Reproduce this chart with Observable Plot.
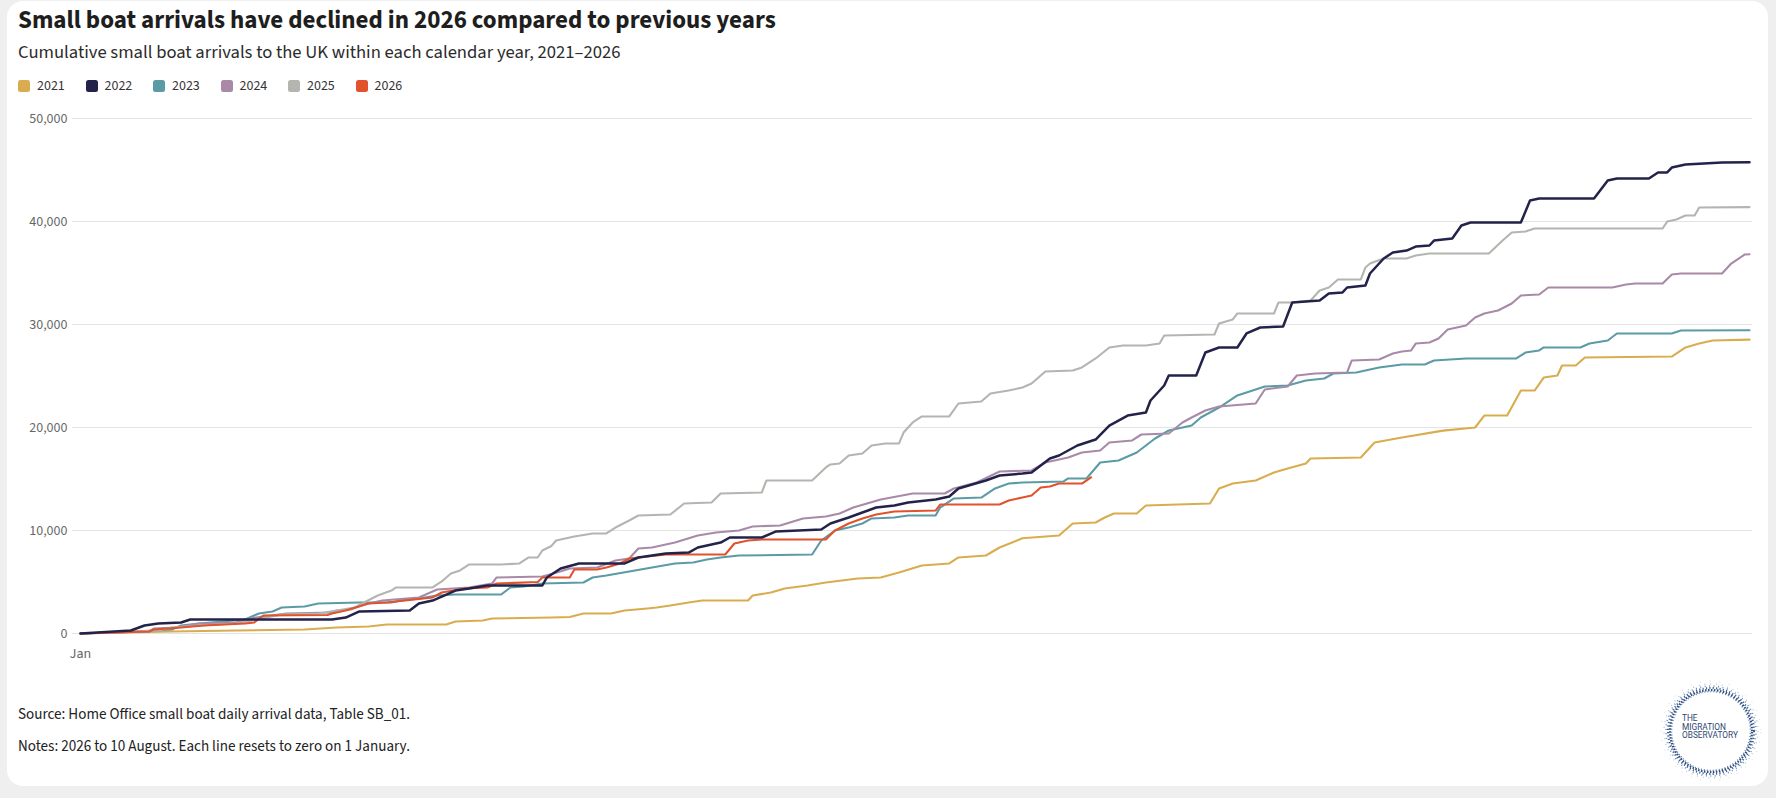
<!DOCTYPE html>
<html>
<head>
<meta charset="utf-8">
<script src="https://cdn.jsdelivr.net/npm/d3@7"></script>
<script src="https://cdn.jsdelivr.net/npm/@observablehq/plot@0.6"></script>
<style>
  html, body { margin: 0; padding: 0; }
  body { width: 1776px; height: 798px; background: #efefef; position: relative; overflow: hidden;
         font-family: "Source Sans 3", "Source Sans Pro", Lato, "Noto Sans", sans-serif; }
  #card { position: absolute; left: 7px; top: 1px; width: 1761px; height: 785px; background: #fff; border-radius: 16px; }
  #title { position: absolute; left: 18px; top: 6px; font-size: 25px; font-weight: 700; color: #1e1e1e; white-space: nowrap; line-height: 29px; }
  #subtitle { position: absolute; left: 18px; top: 41px; font-size: 18.6px; color: #2b2b2b; white-space: nowrap; line-height: 22px; }
  #legend { position: absolute; left: 18px; top: 77px; display: flex; font-size: 14px; color: #333; line-height: 18px; }
  .item { display: flex; align-items: center; width: 67.5px; }
  .sw { width: 12px; height: 12px; border-radius: 2.5px; margin-right: 7px; }
  #chart { position: absolute; left: 0; top: 100px; }
  .note { position: absolute; left: 18px; font-size: 15.1px; color: #222; white-space: nowrap; line-height: 18px; }
  #logo { position: absolute; left: 1660px; top: 680px; }
</style>
</head>
<body>
<div id="card"></div>
<div id="title">Small boat arrivals have declined in 2026 compared to previous years</div>
<div id="subtitle">Cumulative small boat arrivals to the UK within each calendar year, 2021–2026</div>
<div id="legend"></div>
<div id="chart"></div>
<div class="note" style="top:706px">Source: Home Office small boat daily arrival data, Table SB_01.</div>
<div class="note" style="top:738px">Notes: 2026 to 10 August. Each line resets to zero on 1 January.</div>
<svg id="logo" width="104" height="104" viewBox="0 0 104 104"></svg>
<script>
// ---- data: [day of year, cumulative arrivals] ----
const years = ["2021", "2022", "2023", "2024", "2025", "2026"];
const colors = ["#d9ad4f", "#23234a", "#5b9ba6", "#a88aa8", "#b4b4b0", "#e0532c"];
const yTicks = [0, 10000, 20000, 30000, 40000, 50000];
const xTicks = [0];
const xTickLabels = ["Jan"];

const arrivals2021 = [[0,0],[20,190],[34,290],[49,390],[56,580],[63,680],[67,870],[80,870],[82,1160],[88,1260],[90,1460],[103,1550],[107,1600],[110,1940],[116,1940],[119,2230],[124,2430],[126,2520],[129,2720],[133,3010],[136,3200],[146,3200],[147,3690],[151,3980],[154,4370],[159,4660],[163,4950],[170,5340],[175,5440],[179,5920],[184,6600],[190,6800],[192,7380],[198,7570],[201,8350],[206,9250],[214,9510],[217,10680],[222,10780],[224,11260],[226,11650],[231,11650],[233,12430],[247,12620],[249,14080],[252,14560],[257,14850],[261,15630],[264,16020],[268,16500],[269,16990],[280,17090],[283,18540],[289,19030],[298,19700],[305,20000],[307,21160],[312,21160],[315,23590],[318,23590],[320,24850],[323,25050],[324,26020],[327,26020],[329,26800],[348,26890],[351,27770],[354,28150],[357,28450],[365,28530]];

const arrivals2022 = [[0,0],[11,290],[14,780],[17,970],[22,1070],[24,1360],[55,1360],[58,1550],[61,2140],[72,2230],[74,2910],[77,3200],[79,3590],[82,4170],[85,4370],[89,4660],[101,4660],[102,5440],[105,6310],[109,6800],[119,6800],[122,7380],[128,7770],[133,7860],[135,8350],[140,8830],[142,9320],[149,9320],[152,9900],[162,10100],[164,10680],[168,11260],[171,11750],[174,12230],[178,12430],[181,12720],[187,13010],[190,13300],[192,14080],[198,14850],[201,15340],[206,15530],[208,15630],[212,16990],[214,17280],[218,18250],[222,18830],[225,20190],[229,21160],[233,21460],[234,22620],[237,24080],[238,25050],[244,25050],[246,27280],[249,27770],[253,27770],[255,29130],[258,29710],[263,29810],[265,32140],[271,32330],[273,33010],[276,33110],[277,33590],[281,33790],[282,34950],[285,36410],[287,36990],[290,37180],[292,37570],[295,37670],[296,38150],[300,38350],[302,39610],[304,39900],[315,39900],[317,42040],[319,42230],[331,42230],[334,43980],[336,44170],[343,44170],[345,44760],[347,44760],[348,45240],[351,45530],[355,45630],[359,45730],[365,45750]];

const arrivals2023 = [[0,0],[12,190],[20,390],[22,780],[26,970],[36,1360],[39,1940],[42,2140],[44,2520],[49,2620],[52,2910],[61,3010],[68,3010],[70,3200],[74,3400],[78,3690],[82,3790],[92,3790],[94,4470],[97,4560],[101,4850],[110,4950],[112,5440],[115,5630],[120,6020],[125,6410],[130,6800],[134,6890],[137,7180],[140,7380],[144,7570],[160,7670],[162,9030],[165,10000],[168,10290],[171,10680],[173,11170],[178,11260],[181,11460],[187,11460],[188,12230],[191,13110],[197,13200],[200,14080],[203,14560],[206,14660],[215,14760],[216,15050],[220,15050],[223,16600],[227,16800],[231,17570],[235,18930],[238,19710],[243,20190],[245,20970],[249,21940],[253,23110],[259,23980],[264,24080],[268,24560],[272,24760],[274,25240],[279,25340],[284,25830],[289,26120],[294,26120],[296,26500],[303,26700],[314,26700],[316,27280],[319,27480],[320,27770],[328,27770],[330,28150],[334,28450],[336,29130],[348,29130],[350,29420],[365,29440]];

const arrivals2024 = [[0,0],[15,190],[16,480],[21,580],[26,970],[34,1070],[37,1460],[45,1940],[55,2040],[56,2230],[59,2330],[62,2820],[66,3200],[74,3500],[78,4270],[85,4470],[90,4850],[91,5440],[101,5530],[104,5900],[107,6310],[113,6410],[117,7090],[120,7280],[122,8250],[125,8350],[130,8830],[135,9510],[139,9810],[144,10000],[147,10390],[153,10490],[158,11170],[163,11360],[166,11650],[169,12230],[172,12620],[175,13010],[182,13590],[189,13590],[191,14080],[196,14660],[201,15730],[208,15830],[211,16600],[216,17090],[219,17570],[223,17770],[225,18540],[230,18740],[232,19320],[238,19420],[241,20490],[243,20970],[246,21650],[249,22040],[257,22330],[259,23690],[264,23980],[266,25050],[270,25240],[277,25340],[278,26500],[284,26600],[287,27180],[289,27380],[291,27480],[292,28150],[295,28250],[297,28640],[299,29510],[301,29710],[303,29900],[305,30680],[307,31070],[310,31360],[313,32040],[315,32820],[319,32910],[321,33590],[335,33590],[338,33880],[340,33980],[346,33980],[348,34850],[350,34950],[359,34950],[361,35920],[364,36800],[365,36820]];

const arrivals2025 = [[0,0],[12,190],[17,290],[20,580],[26,780],[34,970],[44,1840],[52,1940],[56,2230],[60,2520],[62,3010],[65,3690],[68,4170],[69,4470],[77,4470],[79,5050],[81,5830],[83,6120],[85,6700],[92,6700],[96,6800],[98,7380],[100,7380],[101,8060],[103,8500],[104,9030],[108,9420],[112,9710],[115,9710],[117,10290],[120,10970],[122,11460],[129,11550],[132,12620],[138,12720],[140,13590],[149,13690],[150,14850],[160,14850],[163,16120],[164,16410],[166,16500],[168,17280],[171,17480],[173,18250],[176,18450],[179,18450],[180,19510],[182,20490],[184,21070],[190,21070],[192,22330],[197,22520],[199,23300],[203,23590],[206,23880],[208,24270],[211,25440],[217,25530],[219,25830],[222,26700],[225,27770],[228,27960],[233,27960],[236,28150],[237,28930],[248,29030],[249,30100],[252,30490],[253,31070],[261,31070],[262,32140],[265,32140],[269,32330],[271,33300],[273,33590],[275,34370],[280,34370],[281,35530],[282,35920],[285,36410],[290,36410],[292,36700],[295,36890],[308,36890],[311,38150],[313,38930],[316,39030],[318,39320],[346,39320],[347,40000],[349,40190],[351,40580],[353,40580],[354,41360],[365,41400]];

const arrivals2026 = [[0,0],[15,190],[16,390],[22,580],[27,780],[36,970],[38,1070],[40,1750],[54,1800],[55,1940],[58,2230],[63,2910],[67,3010],[77,3500],[79,3980],[84,4370],[89,4470],[91,4850],[100,5000],[101,5440],[107,5440],[108,6210],[113,6210],[115,6410],[118,6800],[120,7280],[122,7380],[128,7670],[141,7670],[143,8740],[146,9030],[149,9130],[163,9130],[165,10000],[168,10680],[171,11170],[174,11550],[178,11840],[187,11940],[188,12520],[201,12520],[203,12910],[206,13200],[208,13400],[210,14170],[212,14270],[214,14560],[219,14560],[221,15150]];

const series = {"2021": arrivals2021, "2022": arrivals2022, "2023": arrivals2023, "2024": arrivals2024, "2025": arrivals2025, "2026": arrivals2026};
const drawOrder = ["2021", "2023", "2024", "2025", "2026", "2022"];
const rows = drawOrder.flatMap(y => series[y].map(([day, value]) => ({year: y, day, value})));

// legend
const legend = document.getElementById("legend");
years.forEach((y, i) => {
  const it = document.createElement("div");
  it.className = "item";
  it.innerHTML = `<span class="sw" style="background:${colors[i]}"></span><span>${y}</span>`;
  legend.appendChild(it);
});

const chart = Plot.plot({
  width: 1776,
  height: 573,
  marginLeft: 72,
  marginRight: 24,
  marginTop: 18,
  marginBottom: 40,
  style: {fontFamily: '"Source Sans 3", "Source Sans Pro", Lato, "Noto Sans", sans-serif', fontSize: "14px", background: "transparent", overflow: "visible"},
  x: {domain: [0, 365], insetLeft: 8, insetRight: 3},
  y: {domain: [0, 50000]},
  color: {domain: years, range: colors},
  marks: [
    Plot.gridY(yTicks, {stroke: "#e4e4e4", strokeOpacity: 1}),
    Plot.axisY(yTicks, {tickSize: 0, tickPadding: 5, tickFormat: d3.format(","), fill: "#666", fontSize: 14, label: null}),
    Plot.axisX(xTicks, {tickSize: 0, tickPadding: 15, tickFormat: (d, i) => xTickLabels[i], fill: "#666", fontSize: 14, label: null}),
    Plot.line(rows, {x: "day", y: "value", z: "year", stroke: "year",
      strokeWidth: d => d.year === "2022" ? 2.5 : 2.1, strokeLinejoin: "round", strokeLinecap: "round"})
  ]
});
document.getElementById("chart").appendChild(chart);

// logo (decoration)
const logo = d3.select("#logo");
const cx = 51, cy = 51;
const rings = [
  {r: 47, c: "#9db6d3", w: 1.2, d: "0.8 5"},
  {r: 45, c: "#6f8fb9", w: 1.6, d: "1 3.5"},
  {r: 43, c: "#3d5e8f", w: 2, d: "1.2 2.2"},
  {r: 41, c: "#2b4a7c", w: 2.2, d: "1.5 1.5"},
  {r: 39.5, c: "#5b7eab", w: 1.6, d: "1 2"},
  {r: 50, c: "#b8c9dd", w: 1, d: "0.7 9"}
];
rings.forEach((g, i) => logo.append("circle").attr("cx", cx).attr("cy", cy).attr("r", g.r)
  .attr("fill", "none").attr("stroke", g.c).attr("stroke-width", g.w)
  .attr("stroke-dasharray", g.d).attr("stroke-dashoffset", i * 1.7));
logo.append("circle").attr("cx", cx).attr("cy", cy).attr("r", 38).attr("fill", "#fff");
["THE", "MIGRATION", "OBSERVATORY"].forEach((t, i) => logo.append("text")
  .attr("x", 22).attr("y", 41 + i * 8.5).text(t)
  .attr("font-family", "Roboto, sans-serif").attr("font-size", 8.3).attr("fill", "#2d4670"));
</script>
</body>
</html>
